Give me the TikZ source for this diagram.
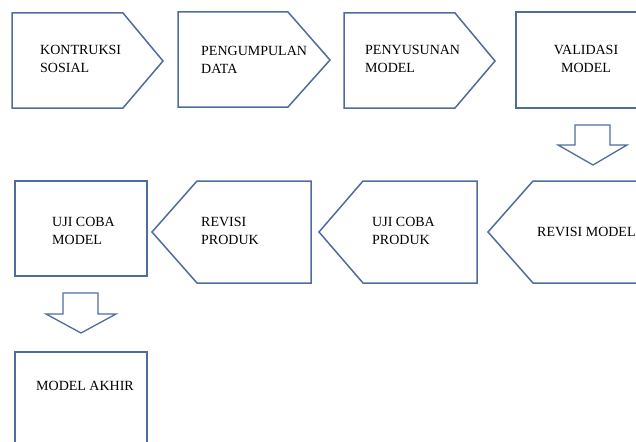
\documentclass[tikz,border=0pt]{standalone}
\usepackage{fontspec}
\setmainfont{Liberation Serif}
\definecolor{shapeblue}{RGB}{79, 109, 156}
\usetikzlibrary{positioning}

\begin{document}
\begin{tikzpicture}[
    x=1pt, y=-1pt,
    stepshape/.style={
        draw=shapeblue, fill=white, line width=1.5pt, line join=miter
    },
    downarrow/.style={
        draw=shapeblue, fill=white, line width=1.3pt, line join=miter
    },
    steptext/.style={
        font=\fontsize{14}{18}\selectfont, inner sep=0pt, align=left, anchor=west
    },
    steptextc/.style={
        font=\fontsize{14}{18}\selectfont, inner sep=0pt, align=center
    }
]
\useasboundingbox (0,0) rectangle (636,441);

% Row 1 (Top): pentagon arrows pointing right
\draw[stepshape] (12,13) -- (123,13) -- (163,61) -- (123,108) -- (12,108) -- cycle;
\node[steptext] (kontruksi) at (40,59) {KONTRUKSI\\SOSIAL};

\draw[stepshape] (178,12) -- (288,12) -- (330,60) -- (288,107) -- (178,107) -- cycle;
\node[steptext] (pengumpulan) at (201,60) {PENGUMPULAN\\DATA};

\draw[stepshape] (344,13) -- (455,13) -- (495,61) -- (455,108) -- (344,108) -- cycle;
\node[steptext] (penyusunan) at (365,59) {PENYUSUNAN\\MODEL};

\draw[stepshape] (516,12) rectangle (650,108);
\node[steptextc] (validasi) at (586,59) {VALIDASI\\MODEL};

% Block arrow down to row 2
\draw[downarrow] (575,125) -- (610,125) -- (610,145) -- (627,145) -- (593,165)
    -- (558,145) -- (575,145) -- cycle;

% Row 2 (Middle): pentagon arrows pointing left
\draw[stepshape] (533,181) -- (650,181) -- (650,283) -- (533,283) -- (488,232) -- cycle;
\node[steptext] (revmodel) at (537,232) {REVISI MODEL};

\draw[stepshape] (363,181) -- (477,181) -- (477,283) -- (363,283) -- (319,232) -- cycle;
\node[steptext] (ujiproduk) at (372,231) {UJI COBA\\PRODUK};

\draw[stepshape] (197,181) -- (311,181) -- (311,283) -- (197,283) -- (152,232) -- cycle;
\node[steptext] (revproduk) at (201,231) {REVISI\\PRODUK};

\draw[stepshape] (15,181) rectangle (147,276);
\node[steptext] (ujimodel) at (52,231) {UJI COBA\\MODEL};

% Block arrow down to row 3
\draw[downarrow] (63,293) -- (98,293) -- (98,314) -- (116,314) -- (81,333)
    -- (46,314) -- (63,314) -- cycle;

% Row 3 (Bottom): final box
\draw[stepshape] (15,352) rectangle (147,460);
\node[steptextc] (akhir) at (85,386) {MODEL AKHIR};

\end{tikzpicture}
\end{document}
